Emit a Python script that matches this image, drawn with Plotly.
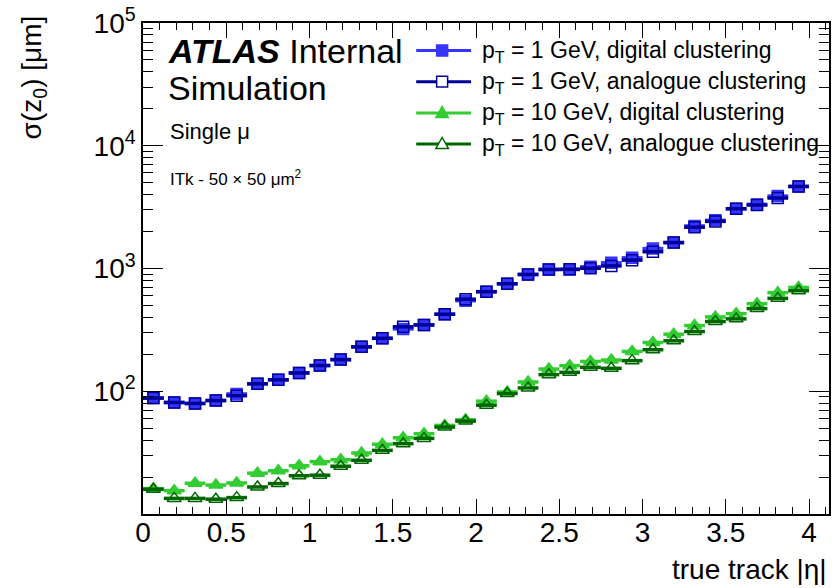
import plotly.graph_objects as go

# |eta| bin centres (bin width 0.125)
eta = [0.0625, 0.1875, 0.3125, 0.4375, 0.5625, 0.6875, 0.8125, 0.9375,
       1.0625, 1.1875, 1.3125, 1.4375, 1.5625, 1.6875, 1.8125, 1.9375,
       2.0625, 2.1875, 2.3125, 2.4375, 2.5625, 2.6875, 2.8125, 2.9375,
       3.0625, 3.1875, 3.3125, 3.4375, 3.5625, 3.6875, 3.8125, 3.9375]
eta_halfwidth = [0.0625] * len(eta)

# sigma(z0) in micrometres
pt1_digital = [88, 81, 79.5, 84, 95, 115, 124, 141, 162, 181, 230, 270, 322, 347, 424, 547,
               647, 751, 894, 982, 982, 1032, 1112, 1221, 1453, 1626, 2220, 2469, 3069, 3329, 3890, 4660]
pt1_analogue = [88, 81, 79.5, 84, 92, 115, 124, 141, 162, 181, 230, 270, 335, 347, 424, 562,
                647, 751, 894, 982, 985, 1005, 1050, 1170, 1370, 1626, 2170, 2420, 3069, 3290, 3750, 4660]
pt10_digital = [16.1, 15.5, 17.8, 17.2, 17.9, 21.5, 22.5, 24.7, 26.7, 27.7, 31.4, 37.0, 41.8, 45.1, 52.7, 58.5,
                83.0, 98.7, 119, 151.6, 161.6, 175, 179.5, 211, 249.6, 291.6, 343, 403, 429, 517, 636, 701]
pt10_analogue = [15.9, 13.4, 13.4, 13.2, 13.6, 16.6, 17.7, 20.5, 20.7, 24.5, 27.4, 33.0, 37.4, 41.3, 51.1, 57.1,
                 77.0, 95.8, 106.4, 136.5, 142.6, 156.6, 153.7, 177.5, 217.9, 257.7, 306.6, 369.6, 388.7, 471.4, 571, 659]

x_ticks = [0, 0.5, 1, 1.5, 2, 2.5, 3, 3.5, 4]
x_ticklabels = ["0", "0.5", "1", "1.5", "2", "2.5", "3", "3.5", "4"]
y_ticks = [1e2, 1e3, 1e4, 1e5]
y_ticklabels = ["10<sup>2</sup>", "10<sup>3</sup>", "10<sup>4</sup>", "10<sup>5</sup>"]

legend_labels = ["p<sub>T</sub> = 1 GeV, digital clustering",
                 "p<sub>T</sub> = 1 GeV, analogue clustering",
                 "p<sub>T</sub> = 10 GeV, digital clustering",
                 "p<sub>T</sub> = 10 GeV, analogue clustering"]

C_BLUE = "#3535ff"
C_NAVY = "#000099"
C_LGREEN = "#33cc33"
C_DGREEN = "#006600"

FONT = "Liberation Sans, Arial, sans-serif"
W, H = 834, 588
L, R, T, B = 143, 3, 20, 74
PW, PH = W - L - R, H - T - B

series = [
    (pt1_digital, C_BLUE, "square", C_BLUE, 11),
    (pt1_analogue, C_NAVY, "square-open", C_NAVY, 11),
    (pt10_digital, C_LGREEN, "triangle-up", C_LGREEN, 12),
    (pt10_analogue, C_DGREEN, "triangle-up-open", C_DGREEN, 12),
]

fig = go.Figure()
for vals, col, sym, mcol, msize in series:
    fig.add_trace(go.Scatter(
        x=eta, y=vals, mode="markers",
        marker=dict(symbol=sym, size=msize, color=mcol, line=dict(color=mcol, width=1.5)),
        error_x=dict(type="data", array=eta_halfwidth, color=col, thickness=3.5, width=0),
        showlegend=False, hoverinfo="x+y",
    ))


def px(xpix):
    return (xpix - L) / PW


def py(ypix):
    return (H - B - ypix) / PH


shapes = []
annotations = []

# legend block
leg_y = [47.7, 79, 110.5, 141.7]
for i, (label, (vals, col, sym, mcol, msize)) in enumerate(zip(legend_labels, series)):
    yc = leg_y[i]
    shapes.append(dict(type="line", xref="paper", yref="paper",
                       x0=px(417), x1=px(472), y0=py(yc), y1=py(yc),
                       line=dict(color=col, width=3)))
    xc = 443
    h = 5.5
    if sym.startswith("square"):
        shapes.append(dict(type="rect", xref="paper", yref="paper",
                           x0=px(xc - h), x1=px(xc + h), y0=py(yc + h), y1=py(yc - h),
                           line=dict(color=mcol, width=1.5),
                           fillcolor=mcol if sym == "square" else "white"))
    else:
        path = "M {:.5f} {:.5f} L {:.5f} {:.5f} L {:.5f} {:.5f} Z".format(
            px(xc - 6.3), py(yc + 4.5), px(xc + 6.3), py(yc + 4.5), px(xc), py(yc - 6.5))
        shapes.append(dict(type="path", xref="paper", yref="paper", path=path,
                           line=dict(color=mcol, width=1.5),
                           fillcolor=mcol if sym == "triangle-up" else "white"))
    annotations.append(dict(text=label, xref="paper", yref="paper", x=px(481), y=py(yc + 1),
                            xanchor="left", yanchor="middle", showarrow=False,
                            font=dict(family=FONT, size=23, color="black")))

# experiment labels
annotations += [
    dict(text="<b><i>ATLAS</i></b> Internal", xref="paper", yref="paper",
         x=px(166), y=py(69), xanchor="left", yanchor="bottom", showarrow=False,
         font=dict(family=FONT, size=34, color="black")),
    dict(text="Simulation", xref="paper", yref="paper",
         x=px(166), y=py(107), xanchor="left", yanchor="bottom", showarrow=False,
         font=dict(family=FONT, size=34, color="black")),
    dict(text="Single \u03bc", xref="paper", yref="paper",
         x=px(168), y=py(144), xanchor="left", yanchor="bottom", showarrow=False,
         font=dict(family=FONT, size=22, color="black")),
    dict(text="ITk - 50 \u00d7 50 \u03bcm<sup>2</sup>", xref="paper", yref="paper",
         x=px(168), y=py(189), xanchor="left", yanchor="bottom", showarrow=False,
         font=dict(family=FONT, size=17, color="black")),
    # axis titles
    dict(text="true track |\u03b7|", xref="paper", yref="paper",
         x=px(831), y=py(570), xanchor="right", yanchor="middle", showarrow=False,
         font=dict(family=FONT, size=28, color="black")),
    dict(text="\u03c3(z<sub>0</sub>) [\u03bcm]", xref="paper", yref="paper",
         x=px(33), y=py(10), xanchor="center", yanchor="top", showarrow=False,
         textangle=-90, font=dict(family=FONT, size=28, color="black")),
]

x_minor = [round(0.1 * k, 1) for k in range(0, 42) if k % 5 != 0]
y_minor = [m * 10 ** d for d in range(1, 5) for m in range(2, 10)]

fig.update_layout(
    width=W, height=H,
    margin=dict(l=L, r=R, t=T, b=B, pad=0),
    paper_bgcolor="white", plot_bgcolor="white",
    font=dict(family=FONT, size=28, color="black"),
    shapes=shapes, annotations=annotations,
    xaxis=dict(range=[0, 4.12], showgrid=False, zeroline=False,
               showline=True, linecolor="black", linewidth=1.5, mirror="ticks",
               ticks="inside", ticklen=15, tickwidth=1.3, tickcolor="black",
               tickmode="array", tickvals=x_ticks, ticktext=x_ticklabels,
               tickfont=dict(family=FONT, size=28), ticklabelstandoff=-7,
               minor=dict(tickmode="array", tickvals=x_minor, ticks="inside",
                          ticklen=7, tickwidth=1.3, tickcolor="black", showgrid=False)),
    yaxis=dict(type="log", range=[1.0, 5.0], showgrid=False, zeroline=False,
               showline=True, linecolor="black", linewidth=1.5, mirror="ticks",
               ticks="inside", ticklen=20, tickwidth=1.3, tickcolor="black",
               tickmode="array", tickvals=y_ticks, ticktext=y_ticklabels,
               tickfont=dict(family=FONT, size=28),
               minor=dict(tickmode="array", tickvals=y_minor, ticks="inside",
                          ticklen=10, tickwidth=1.3, tickcolor="black", showgrid=False)),
)

fig.write_html("out.html")
